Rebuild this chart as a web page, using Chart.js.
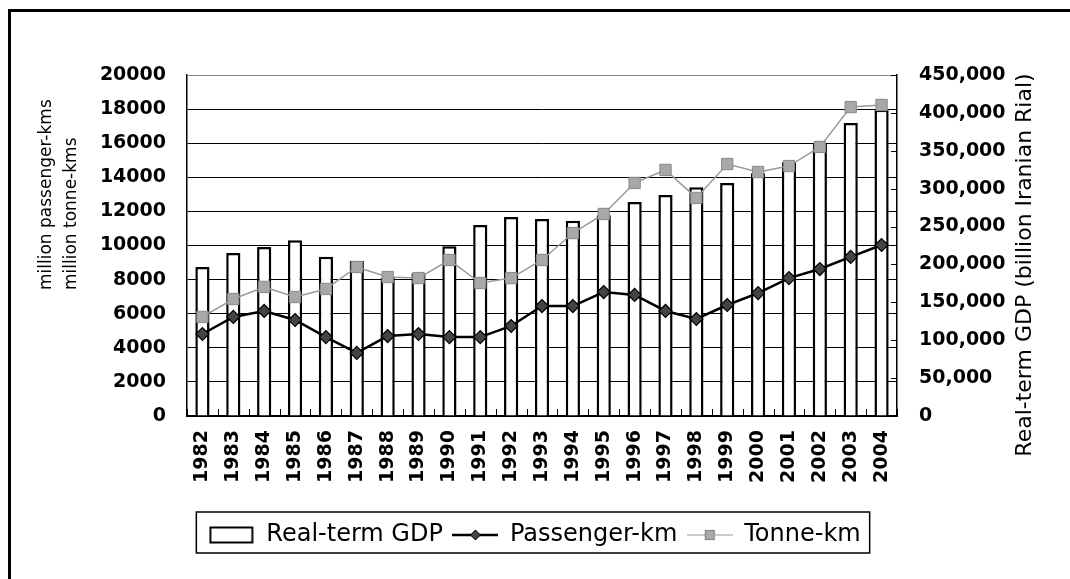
<!DOCTYPE html>
<html>
<head>
<meta charset="utf-8">
<title>Railway traffic and real-term GDP, 1982-2004</title>
<script src="https://cdn.jsdelivr.net/npm/chart.js@4.4.1/dist/chart.umd.min.js"></script>
<style>
  html, body { margin: 0; padding: 0; background: #fff; }
  #wrap { position: relative; width: 1070px; height: 579px; overflow: hidden; }
  #frame {
    position: absolute; left: 8px; top: 9px; right: 0; bottom: 0;
    border-left: 3px solid #000; border-top: 3px solid #000;
    pointer-events: none;
  }
</style>
</head>
<body>
<div id="wrap">
  <canvas id="railChart" width="1070" height="579"></canvas>
  <div id="frame"></div>
</div>
<script>
const years = ["1982", "1983", "1984", "1985", "1986", "1987", "1988", "1989",
  "1990", "1991", "1992", "1993", "1994", "1995", "1996", "1997", "1998",
  "1999", "2000", "2001", "2002", "2003", "2004"];

// billion Iranian Rial (right axis)
const gdp = [196600, 215000, 223000, 232000, 210000, 204500, 182000, 188500,
  224000, 252000, 262500, 260000, 257500, 265000, 282500, 291500, 302000,
  307500, 320500, 335000, 360000, 386500, 404000];

// million passenger-kms (left axis)
const passengerKm = [4810, 5810, 6160, 5630, 4630, 3700, 4690, 4810, 4630,
  4630, 5280, 6450, 6450, 7270, 7100, 6160, 5690, 6510, 7210, 8090, 8620,
  9330, 10030];

// million tonne-kms (left axis)
const tonneKm = [5810, 6860, 7570, 6980, 7450, 8740, 8150, 8090, 9150, 7800,
  8090, 9150, 10730, 11850, 13670, 14430, 12790, 14780, 14310, 14660, 15780,
  18120, 18240];

const leftTitle = ["million passenger-kms", "million tonne-kms"];
const rightTitle = "Real-term GDP (billion Iranian Rial)";

const tickFont = { family: "DejaVu Sans", size: 19, weight: "bold" };

// small canvases used as legend symbols
function legendIcon(kind) {
  const c = document.createElement("canvas");
  c.width = 46;
  c.height = 18;
  const g = c.getContext("2d");
  if (kind === "bar") {
    g.strokeStyle = "#000";
    g.lineWidth = 2;
    g.strokeRect(1.5, 1.5, 42, 15);
  } else if (kind === "passenger") {
    g.strokeStyle = "#000";
    g.lineWidth = 2.5;
    g.beginPath(); g.moveTo(0, 9); g.lineTo(46, 9); g.stroke();
    g.fillStyle = "#444";
    g.lineWidth = 1;
    g.beginPath();
    g.moveTo(23, 4); g.lineTo(28, 9); g.lineTo(23, 14); g.lineTo(18, 9);
    g.closePath(); g.fill(); g.stroke();
  } else {
    g.strokeStyle = "#9a9a9a";
    g.lineWidth = 1.2;
    g.beginPath(); g.moveTo(0, 9); g.lineTo(46, 9); g.stroke();
    g.fillStyle = "#aaa";
    g.strokeStyle = "#888";
    g.fillRect(18.5, 4.5, 9, 9);
    g.strokeRect(18.5, 4.5, 9, 9);
  }
  return c;
}
const icons = [legendIcon("bar"), legendIcon("passenger"), legendIcon("tonne")];

const extras = {
  id: "extras",
  afterDraw(chart) {
    const { ctx, chartArea, scales } = chart;
    const x = scales.x;
    const y1 = scales.y1;
    ctx.save();
    ctx.strokeStyle = "#000";
    ctx.lineWidth = 1;

    // inner tick marks between categories
    const half = (x.getPixelForValue(1) - x.getPixelForValue(0)) / 2;
    for (let i = 0; i <= years.length; i++) {
      const px = Math.round(x.getPixelForValue(i) - half) + 0.5;
      ctx.beginPath();
      ctx.moveTo(px, chartArea.bottom);
      ctx.lineTo(px, chartArea.bottom - 7);
      ctx.stroke();
    }
    // inner tick marks on the GDP axis
    y1.ticks.forEach((t) => {
      const py = Math.round(y1.getPixelForValue(t.value)) + 0.5;
      ctx.beginPath();
      ctx.moveTo(chartArea.right, py);
      ctx.lineTo(chartArea.right - 6, py);
      ctx.stroke();
    });

    // axis titles
    ctx.fillStyle = "#000";
    ctx.textBaseline = "middle";
    ctx.font = "17px 'DejaVu Sans'";
    ctx.textAlign = "left";
    leftTitle.forEach((line, i) => {
      ctx.save();
      ctx.translate(47 + i * 25, 290);
      ctx.rotate(-Math.PI / 2);
      ctx.fillText(line, 0, 0);
      ctx.restore();
    });
    ctx.font = "22px 'DejaVu Sans'";
    ctx.textAlign = "center";
    ctx.save();
    ctx.translate(1025, 265);
    ctx.rotate(-Math.PI / 2);
    ctx.fillText(rightTitle, 0, 0);
    ctx.restore();

    // frame round the legend
    const boxes = chart.legend.legendHitBoxes;
    if (boxes.length) {
      const first = boxes[0];
      const last = boxes[boxes.length - 1];
      ctx.lineWidth = 1.5;
      ctx.strokeRect(first.left - 13, chart.legend.top - 1,
        last.left + last.width + 22 - first.left, chart.legend.height - 3);
    }
    ctx.restore();
  },
};

new Chart(document.getElementById("railChart"), {
  data: {
    labels: years,
    datasets: [
      {
        type: "bar",
        label: "Real-term GDP",
        data: gdp,
        yAxisID: "y1",
        backgroundColor: "#fff",
        borderColor: "#000",
        borderWidth: 2.5,
        barPercentage: 0.46,
        categoryPercentage: 1,
        order: 3,
      },
      {
        type: "line",
        label: "Passenger-km",
        data: passengerKm,
        yAxisID: "y",
        borderColor: "#000",
        borderWidth: 2.5,
        pointStyle: "rectRot",
        pointRadius: 6.5,
        pointBackgroundColor: "#444",
        pointBorderColor: "#000",
        pointBorderWidth: 1.2,
        tension: 0,
        order: 1,
      },
      {
        type: "line",
        label: "Tonne-km",
        data: tonneKm,
        yAxisID: "y",
        borderColor: "#9a9a9a",
        borderWidth: 1.5,
        pointStyle: "rect",
        pointRadius: 8,
        pointBackgroundColor: "#a8a8a8",
        pointBorderColor: "#888",
        pointBorderWidth: 1,
        tension: 0,
        order: 2,
      },
    ],
  },
  options: {
    responsive: false,
    animation: false,
    layout: { padding: { top: 75, bottom: 22, left: 0, right: 0 } },
    scales: {
      x: {
        offset: true,
        grid: { display: false, drawTicks: false },
        border: { display: true, color: "#000", width: 2 },
        ticks: {
          color: "#000",
          font: tickFont,
          minRotation: 90,
          maxRotation: 90,
          autoSkip: false,
          padding: 14,
        },
        afterFit: (s) => { s.height = 97; },
      },
      y: {
        position: "left",
        min: 0,
        max: 20000,
        grid: {
          color: (c) => (c.tick && c.tick.value === 20000 ? "#888" : "#000"),
          lineWidth: 1,
          drawTicks: false,
        },
        border: { display: true, color: "#000", width: 1.5 },
        ticks: {
          stepSize: 2000,
          color: "#000",
          font: tickFont,
          padding: 21,
          callback: (v) => String(v),
        },
        afterFit: (s) => { s.width = 187; },
      },
      y1: {
        position: "right",
        min: 0,
        max: 450000,
        grid: { drawOnChartArea: false, drawTicks: false },
        border: { display: true, color: "#000", width: 1.5 },
        ticks: {
          stepSize: 50000,
          color: "#000",
          font: tickFont,
          padding: 22,
          callback: (v) => v.toLocaleString("en-US"),
        },
        afterFit: (s) => { s.width = 173; },
      },
    },
    plugins: {
      tooltip: { enabled: false },
      legend: {
        position: "bottom",
        labels: {
          color: "#000",
          font: { family: "DejaVu Sans", size: 24 },
          usePointStyle: true,
          pointStyleWidth: 45,
          padding: 10,
          generateLabels: (chart) =>
            chart.data.datasets.map((ds, i) => ({
              text: ds.label,
              pointStyle: icons[i],
              datasetIndex: i,
              hidden: false,
              fontColor: "#000",
              fillStyle: "transparent",
              strokeStyle: "transparent",
              lineWidth: 0,
            })),
        },
      },
    },
  },
  plugins: [extras],
});
</script>
</body>
</html>
